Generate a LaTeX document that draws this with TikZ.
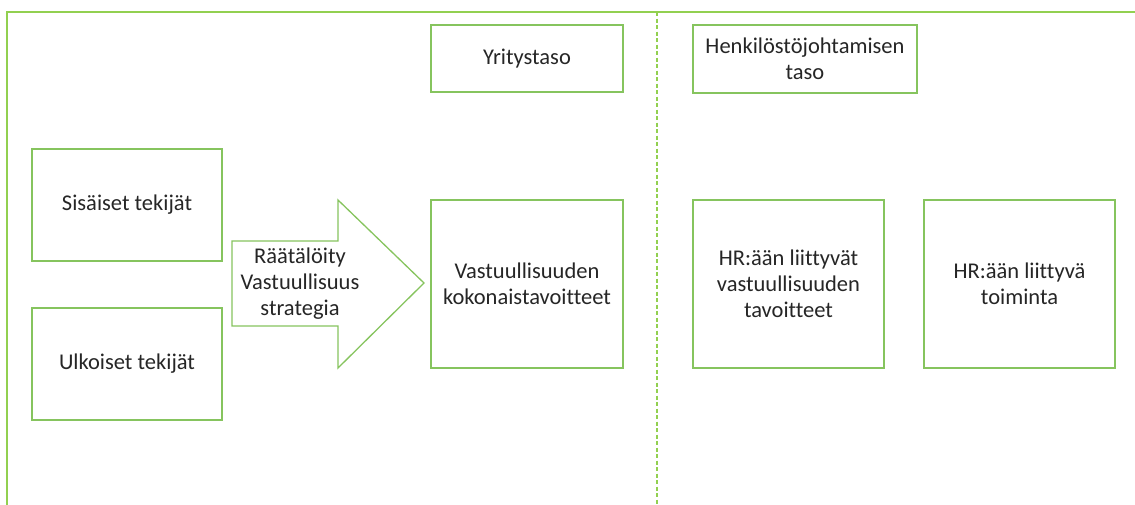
\documentclass[tikz,border=0pt]{standalone}
\usepackage{fontspec}
\setmainfont{Carlito}[Ligatures=NoCommon]
\definecolor{frame}{HTML}{92D050}
\definecolor{boxc}{HTML}{86C45E}
\definecolor{txt}{HTML}{262626}
\begin{document}
\begin{tikzpicture}[x=1pt,y=-1pt,
  box/.style={draw=boxc,line width=1.3pt,fill=white,inner sep=0pt,align=center,text=txt,
    font=\fontsize{22.5}{26}\selectfont},
  lbl/.style={align=center,text=txt,font=\fontsize{22.5}{26}\selectfont}]
\useasboundingbox (0,0) rectangle (1135,504);
\fill[white] (0,0) rectangle (1135,504);
\draw[frame,line width=1.5pt] (7,506) -- (7,12) -- (1137,12);
\draw[frame,line width=1.2pt,dash pattern=on 4pt off 2.5pt] (657,12) -- (657,506);
\node[box,minimum width=192pt,minimum height=67pt] (yt) at (527,58.5) {Yritystaso};
\node[box,minimum width=224pt,minimum height=68pt] (ht) at (805,59) {Henkilöstöjohtamisen\\taso};
\node[box,minimum width=190pt,minimum height=112pt] (si) at (127,205) {Sisäiset tekijät};
\node[box,minimum width=190pt,minimum height=112pt] (ul) at (127,364) {Ulkoiset tekijät};
\draw[boxc,line width=1.3pt,fill=white,line join=miter]
  (232,241) -- (338,241) -- (338,200) -- (424,283) -- (338,368) -- (338,326) -- (232,326) -- cycle;
\node[lbl] (st) at (300,284) {Räätälöity\\Vastuullisuus\\strategia};
\node[box,minimum width=192pt,minimum height=168pt] (vk) at (527,284) {Vastuullisuuden\\kokonaistavoitteet};
\node[box,minimum width=191pt,minimum height=168pt] (hv) at (788.5,284) {HR:ään liittyvät\\vastuullisuuden\\tavoitteet};
\node[box,minimum width=191pt,minimum height=168pt] (hr) at (1019.5,284) {HR:ään liittyvä\\toiminta};
\end{tikzpicture}
\end{document}
